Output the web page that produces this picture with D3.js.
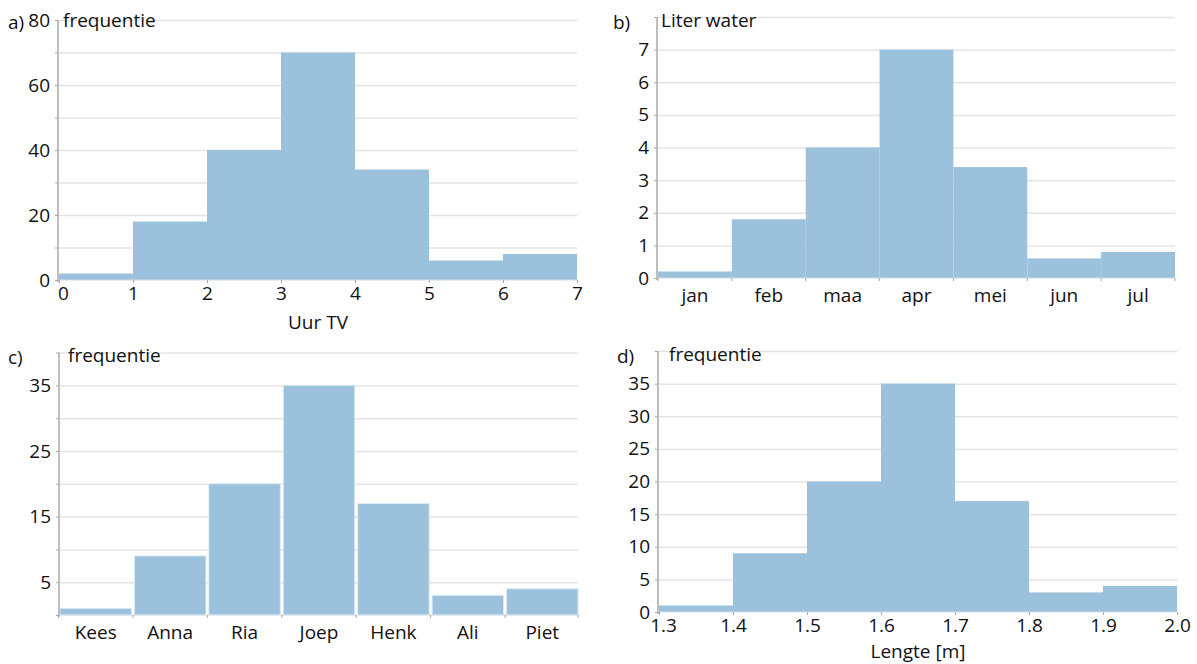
<!DOCTYPE html>
<html>
<head>
<meta charset="utf-8">
<script src="https://cdn.jsdelivr.net/npm/d3@7"></script>
<style>
  body { margin: 0; background: #fff; }
  svg text { font-family: "Open Sans", sans-serif; font-size: 19px; fill: #111; }
  .grid line { stroke: #e4e4e4; stroke-width: 1.5; }
  .grid .domain { display: none; }
  .ylab .domain, .xlab .domain { display: none; }
  .ylab line, .xlab line { stroke: #a8a8a8; }
</style>
</head>
<body>
<svg id="chart" width="1197" height="664"></svg>
<script>
// Histogram panels (a-d)
const tvEdges = [0, 1, 2, 3, 4, 5, 6, 7];
const tvFreq = [2, 18, 40, 70, 34, 6, 8];

const months = ["jan", "feb", "maa", "apr", "mei", "jun", "jul"];
const water = [0.2, 1.8, 4, 7, 3.4, 0.6, 0.8];

const names = ["Kees", "Anna", "Ria", "Joep", "Henk", "Ali", "Piet"];
const nameFreq = [1, 9, 20, 35, 17, 3, 4];

const lengthEdges = [1.3, 1.4, 1.5, 1.6, 1.7, 1.8, 1.9, 2.0];
const lengthFreq = [1, 9, 20, 35, 17, 3, 4];

const yTicksA = [0, 20, 40, 60, 80];
const yTicksB = [0, 1, 2, 3, 4, 5, 6, 7];
const yTicksC = [5, 15, 25, 35];
const yTicksD = [0, 5, 10, 15, 20, 25, 30, 35];

const BAR = "#9bc1dc";
const svg = d3.select("#chart");

function drawPanel(opt) {
  const g = svg.append("g");
  const y = d3.scaleLinear().domain([0, opt.yMax]).range([opt.y0, opt.y1]);
  const left = opt.x0, right = opt.x1;

  // gridlines
  g.append("g")
    .attr("class", "grid")
    .attr("transform", `translate(${left},0)`)
    .call(d3.axisLeft(y).tickValues(d3.range(opt.gridStep, opt.yMax + 0.001, opt.gridStep))
      .tickSize(-(right - left)).tickFormat(""));

  let x, bars;
  if (opt.edges) {
    x = d3.scaleLinear().domain([opt.edges[0], opt.edges[opt.edges.length - 1]]).range([left, right]);
    bars = opt.values.map((v, i) => ({ x0: x(opt.edges[i]), x1: x(opt.edges[i + 1]), v }));
  } else {
    x = d3.scaleBand().domain(opt.cats).range([left, right]).paddingInner(opt.gap || 0);
    bars = opt.values.map((v, i) => ({ x0: x(opt.cats[i]), x1: x(opt.cats[i]) + x.bandwidth(), v }));
  }

  g.selectAll("rect.bar").data(bars).enter().append("rect")
    .attr("class", "bar")
    .attr("x", d => d.x0)
    .attr("width", d => d.x1 - d.x0)
    .attr("y", d => y(d.v))
    .attr("height", d => y(0) - y(d.v))
    .attr("fill", BAR)
    .attr("stroke", opt.gap ? "#dbe9f3" : "none")
    .attr("stroke-width", 1);

  // baseline
  g.append("line")
    .attr("x1", left).attr("x2", right)
    .attr("y1", y(0)).attr("y2", y(0))
    .attr("stroke", "#cfdce6").attr("stroke-width", 1);

  // y axis with small ticks at gridlines
  g.append("g")
    .attr("class", "ylab")
    .attr("transform", `translate(${left - 1},0)`)
    .call(d3.axisLeft(y).tickValues(d3.range(0, opt.yMax + 0.001, opt.gridStep)).tickSize(3).tickFormat(""));
  g.append("g")
    .attr("class", "ylab")
    .attr("transform", `translate(${left - 1},0)`)
    .call(d3.axisLeft(y).tickValues(opt.yTicks).tickSize(0).tickPadding(8).tickFormat(d3.format("d")));
  g.append("line")
    .attr("x1", left - 1).attr("x2", left - 1)
    .attr("y1", y(opt.yMax)).attr("y2", y(0) + 2)
    .attr("stroke", "#a8a8a8").attr("stroke-width", 1.5);

  // x axis
  const xa = g.append("g").attr("class", "xlab").attr("transform", `translate(0,${y(0)})`);
  if (opt.edges) {
    xa.call(d3.axisBottom(x).tickValues(opt.edges).tickSize(3).tickPadding(3)
      .tickFormat(opt.xFormat));
    // first label sits a little right of its tick, as in the original
    xa.selectAll(".tick text").filter((d, i) => i === 0).attr("dx", 4);
  } else {
    const bounds = opt.cats.map(c => x(c) - (x.step() - x.bandwidth()) / 2).concat([right]);
    xa.selectAll("line.tk").data(bounds).enter().append("line")
      .attr("x1", d => d).attr("x2", d => d).attr("y1", 0).attr("y2", 3)
      .attr("stroke", "#a8a8a8");
    xa.selectAll("text.cat").data(opt.cats).enter().append("text")
      .attr("x", d => x(d) + x.bandwidth() / 2)
      .attr("y", 24)
      .attr("text-anchor", "middle")
      .text(d => d);
  }

  // labels
  g.append("text").attr("x", opt.tagX).attr("y", opt.titleY + 2).text(opt.tag);
  g.append("text").attr("x", opt.titleX).attr("y", opt.titleY).text(opt.title);
  if (opt.xTitle) {
    g.append("text").attr("x", (left + right) / 2).attr("y", opt.xTitleY)
      .attr("text-anchor", "middle").text(opt.xTitle);
  }
}

drawPanel({
  edges: tvEdges, values: tvFreq, x0: 59, x1: 577, y0: 280, y1: 20, yMax: 80,
  gridStep: 10, yTicks: yTicksA, xFormat: d3.format("d"),
  tag: "a)", tagX: 8, title: "frequentie", titleX: 63, titleY: 27,
  xTitle: "Uur TV", xTitleY: 329
});

drawPanel({
  cats: months, values: water, x0: 658, x1: 1175, y0: 278, y1: 17, yMax: 8,
  gridStep: 1, yTicks: yTicksB,
  tag: "b)", tagX: 613, title: "Liter water", titleX: 661, titleY: 27
});

drawPanel({
  cats: names, values: nameFreq, x0: 60, x1: 578, y0: 615, y1: 352.6, yMax: 40,
  gridStep: 5, yTicks: yTicksC, gap: 0.04,
  tag: "c)", tagX: 8, title: "frequentie", titleX: 68, titleY: 362
});

drawPanel({
  edges: lengthEdges, values: lengthFreq, x0: 659, x1: 1177, y0: 612, y1: 351, yMax: 40,
  gridStep: 5, yTicks: yTicksD, xFormat: d3.format(".1f"),
  tag: "d)", tagX: 617, title: "frequentie", titleX: 669, titleY: 361,
  xTitle: "Lengte [m]", xTitleY: 658
});
</script>
</body>
</html>
